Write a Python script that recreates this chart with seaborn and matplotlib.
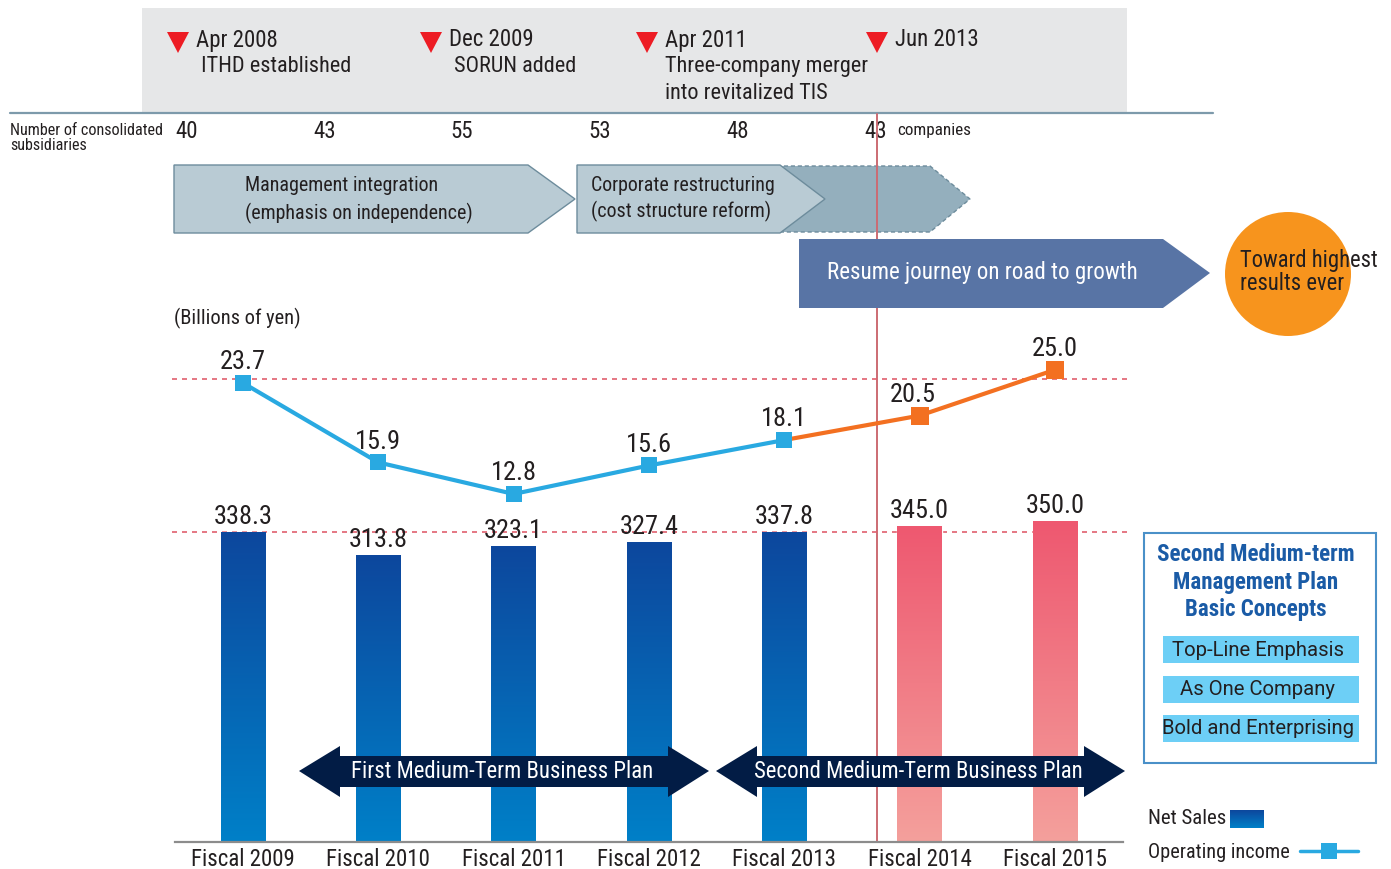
import numpy as np
import pandas as pd
import seaborn as sns
import matplotlib.pyplot as plt
import matplotlib.font_manager as fm
from matplotlib.patches import Polygon, Rectangle, Ellipse
from matplotlib.colors import LinearSegmentedColormap

# chart data
years = ["Fiscal 2009", "Fiscal 2010", "Fiscal 2011", "Fiscal 2012",
         "Fiscal 2013", "Fiscal 2014", "Fiscal 2015"]
net_sales = [338.3, 313.8, 323.1, 327.4, 337.8, 345.0, 350.0]
op_income = [23.7, 15.9, 12.8, 15.6, 18.1, 20.5, 25.0]
plan = ["actual", "actual", "actual", "actual", "actual", "plan", "plan"]

subsidiaries = ["40", "43", "55", "53", "48", "43"]
sub_x = [187, 325, 462, 600, 738, 876]

event_dates = ["Apr 2008", "Dec 2009", "Apr 2011", "Jun 2013"]
event_notes = [" ITHD established", " SORUN added", "Three-company merger\ninto revitalized TIS", ""]
event_x = [178, 431, 647, 877]

concepts = ["Top-Line Emphasis", "As One Company", "Bold and Enterprising"]

W, H = 1391, 869
BLUE_TOP, BLUE_BOT = "#0d479d", "#0080c8"
PINK_TOP, PINK_BOT = "#ee5870", "#f4a09c"
LINE_BLUE, LINE_ORANGE = "#29a9e1", "#f37021"
DARK = "#231f20"

sns.set_theme(style="white")

# pick a condensed face if one is installed
installed = {f.name for f in fm.fontManager.ttflist}
narrow = next((n for n in ["Roboto Condensed", "Liberation Sans Narrow", "Archivo Narrow",
                           "PT Sans Narrow", "Fira Sans Condensed", "IBM Plex Sans Condensed",
                           "Sofia Sans Semi Condensed", "Sofia Sans Condensed"]
               if n in installed), "DejaVu Sans")
plt.rcParams['font.family'] = [narrow, 'DejaVu Sans']
wide = ['Roboto', 'DejaVu Sans']

fig = plt.figure(figsize=(W / 100, H / 100), dpi=100)


def px_rect(x0, y0, x1, y1):
    return [x0 / W, 1 - y1 / H, (x1 - x0) / W, (y1 - y0) / H]


# background layer in pixel coordinates
bg = fig.add_axes([0, 0, 1, 1], zorder=0)
bg.set_xlim(0, W)
bg.set_ylim(H, 0)
bg.axis('off')

bg.add_patch(Rectangle((142, 8), 985, 104, color="#e6e7e8", lw=0))
bg.plot([10, 1213], [113, 113], color="#7d9aab", lw=1.6)

for x, d, n in zip(event_x, event_dates, event_notes):
    bg.add_patch(Polygon([(x - 11, 32), (x + 11, 32), (x, 53)], color="#ed1c24", lw=0))
    bg.text(x + 18, 40, d, fontsize=16.5, color=DARK, va='center')
    if n:
        bg.text(x + 18, 56, n, fontsize=16, color=DARK, va='top', linespacing=1.38)

bg.text(10, 138, "Number of consolidated\nsubsidiaries", fontsize=11.6, color=DARK,
        va='center', linespacing=1.0)
for x, s in zip(sub_x, subsidiaries):
    bg.text(x, 132, s, fontsize=16.5, color=DARK, ha='center', va='center')
bg.text(897, 130, "companies", fontsize=12.3, color=DARK, va='center')

# phase arrows
edge = "#6d8c9c"
bg.add_patch(Polygon([(770, 166), (930, 166), (970, 199), (930, 232), (770, 232)],
                     fc="#94afbd", ec=edge, lw=1, ls=(0, (3, 2))))
bg.plot([877, 877], [114, 842], color="#cc6b73", lw=1.4, zorder=3)
bg.add_patch(Polygon([(174, 165), (528, 165), (575, 199), (528, 233), (174, 233)],
                     fc="#b9cbd4", ec=edge, lw=1, zorder=4))
bg.add_patch(Polygon([(577, 165), (780, 165), (825, 199), (780, 233), (577, 233)],
                     fc="#b9cbd4", ec=edge, lw=1, zorder=4))
bg.text(245, 200, "Management integration\n(emphasis on independence)", fontsize=14.4,
        color=DARK, va='center', linespacing=1.45, zorder=5)
bg.text(591, 199, "Corporate restructuring\n(cost structure reform)", fontsize=14.4,
        color=DARK, va='center', linespacing=1.4, zorder=5)
bg.add_patch(Polygon([(799, 239), (1163, 239), (1210, 273), (1163, 308), (799, 308)],
                     fc="#5874a5", lw=0, zorder=4))
bg.text(827, 273, "Resume journey on road to growth", fontsize=16.6, color="white",
        va='center', zorder=5)
bg.add_patch(Ellipse((1288, 274), 126, 124, color="#f7941d", lw=0, zorder=4))
bg.text(1240, 272, "Toward highest\nresults ever", fontsize=16.3, color=DARK,
        va='center', linespacing=1.05, zorder=5)

bg.text(174, 318, "(Billions of yen)", fontsize=14.7, color=DARK, va='center')

# concept box
bg.add_patch(Rectangle((1144, 533), 232, 230, fc="white", ec="#4a90c8", lw=1.5))
bg.text(1256, 582, "Second Medium-term\nManagement Plan\nBasic Concepts", fontsize=16.5,
        fontweight='bold', color="#1a5ba6", ha='center', va='center', linespacing=1.27)
for k, c in enumerate(concepts):
    y0 = 636 + 39.5 * k
    bg.add_patch(Rectangle((1163, y0), 196, 27, color="#6dcff6", lw=0))
    bg.text(1258, y0 + 14, c, fontsize=14.6, color=DARK, ha='center', va='center', family=wide)

# legend
bg.text(1148, 818, "Net Sales", fontsize=15, color=DARK, va='center')
bg.imshow(np.linspace(0, 1, 64).reshape(-1, 1), extent=[1230, 1264, 828, 810],
          cmap=LinearSegmentedColormap.from_list("lg", [BLUE_TOP, BLUE_BOT]), aspect='auto')
bg.text(1148, 852, "Operating income", fontsize=14.6, color=DARK, va='center')
bg.plot([1300, 1358], [851, 851], color=LINE_BLUE, lw=2.5)
bg.plot([1329], [851], marker='s', markersize=11, color=LINE_BLUE, mew=0)
bg.set_xlim(0, W)
bg.set_ylim(H, 0)

# bar + line chart
ax = fig.add_axes(px_rect(175.4, 330, 1122.6, 842), zorder=1)
ax.patch.set_visible(False)
df = pd.DataFrame({"year": years, "sales": net_sales, "income": op_income, "plan": plan})
sns.barplot(data=df, x="year", y="sales", hue="plan", dodge=False, width=0.33,
            palette={"actual": BLUE_TOP, "plan": PINK_TOP}, legend=False, ax=ax)
y_lo, y_hi = 8.5, 553.2
grad = np.linspace(0, 1, 256).reshape(-1, 1)
cmaps = {"actual": LinearSegmentedColormap.from_list("b", [BLUE_TOP, BLUE_BOT]),
         "plan": LinearSegmentedColormap.from_list("p", [PINK_TOP, PINK_BOT])}
for p in ax.patches:
    h = p.get_height()
    if not np.isfinite(h) or h <= 0:
        continue
    x0, w = p.get_x(), p.get_width()
    i = int(round(x0 + w / 2))
    im = ax.imshow(grad, extent=[x0, x0 + w, y_lo, h], cmap=cmaps[plan[i]],
                   aspect='auto', zorder=p.get_zorder() + 0.1)
    im.set_clip_path(p)
for i, v in enumerate(net_sales):
    ax.annotate(f"{v:.1f}", (i, v), xytext=(0, 5.8), textcoords='offset points',
                ha='center', va='baseline', fontsize=19, color=DARK)
ax.axhline(338.3, xmin=-0.004, xmax=1.008, color="#e0606e", lw=1.2, ls=(0, (3, 3)),
           clip_on=False, zorder=0)
ax.set_xlim(-0.5, 6.5)
ax.set_ylim(y_lo, y_hi)
ax.set_xlabel("")
ax.set_ylabel("")
ax.set_yticks([])
ax.tick_params(axis='x', length=0, pad=4, labelsize=16.5, labelcolor=DARK)
for s in ["top", "right", "left"]:
    ax.spines[s].set_visible(False)
ax.spines["bottom"].set_color("#8c8c8c")
ax.spines["bottom"].set_linewidth(1.6)

ax2 = ax.twinx()
ax2.patch.set_visible(False)
idx = np.arange(len(years))
sns.lineplot(x=idx[4:], y=op_income[4:], color=LINE_ORANGE, lw=3, ax=ax2)
sns.lineplot(x=idx[:5], y=op_income[:5], color=LINE_BLUE, lw=3, marker='s',
             markersize=12, markeredgewidth=0, ax=ax2)
sns.scatterplot(x=idx[5:], y=op_income[5:], color=LINE_ORANGE, marker='s', s=150,
                linewidth=0, ax=ax2, zorder=5)
for i, v in enumerate(op_income):
    dx = -5 if i == 5 else 0
    ax2.annotate(f"{v:.1f}", (i, v), xytext=(dx, 10), textcoords='offset points',
                 ha='center', va='baseline', fontsize=19, color=DARK)
ax2.axhline(24.09, xmin=-0.004, xmax=1.008, color="#e0606e", lw=1.2, ls=(0, (3, 3)),
            clip_on=False, zorder=0)
ax2.set_ylim(-21.39, 28.91)
ax2.set_xlim(-0.5, 6.5)
ax2.set_yticks([])
ax2.set_ylabel("")
for s in ax2.spines.values():
    s.set_visible(False)

# medium-term plan arrows on top
top = fig.add_axes([0, 0, 1, 1], zorder=3)
top.patch.set_visible(False)
top.axis('off')
top.set_xlim(0, W)
top.set_ylim(H, 0)
for (l, r), label in zip([(299, 709), (716, 1125)],
                         ["First Medium-Term Business Plan", "Second Medium-Term Business Plan"]):
    yc = 771
    pts = [(l, yc), (l + 41, yc - 25), (l + 41, yc - 15), (r - 41, yc - 15), (r - 41, yc - 25),
           (r, yc), (r - 41, yc + 26), (r - 41, yc + 16), (l + 41, yc + 16), (l + 41, yc + 26)]
    top.add_patch(Polygon(pts, color="#021c45", lw=0))
    top.text((l + r) / 2 - 2, yc + 1, label, fontsize=16.4, color="white", ha='center', va='center')

fig.savefig("out.png", dpi=100)
